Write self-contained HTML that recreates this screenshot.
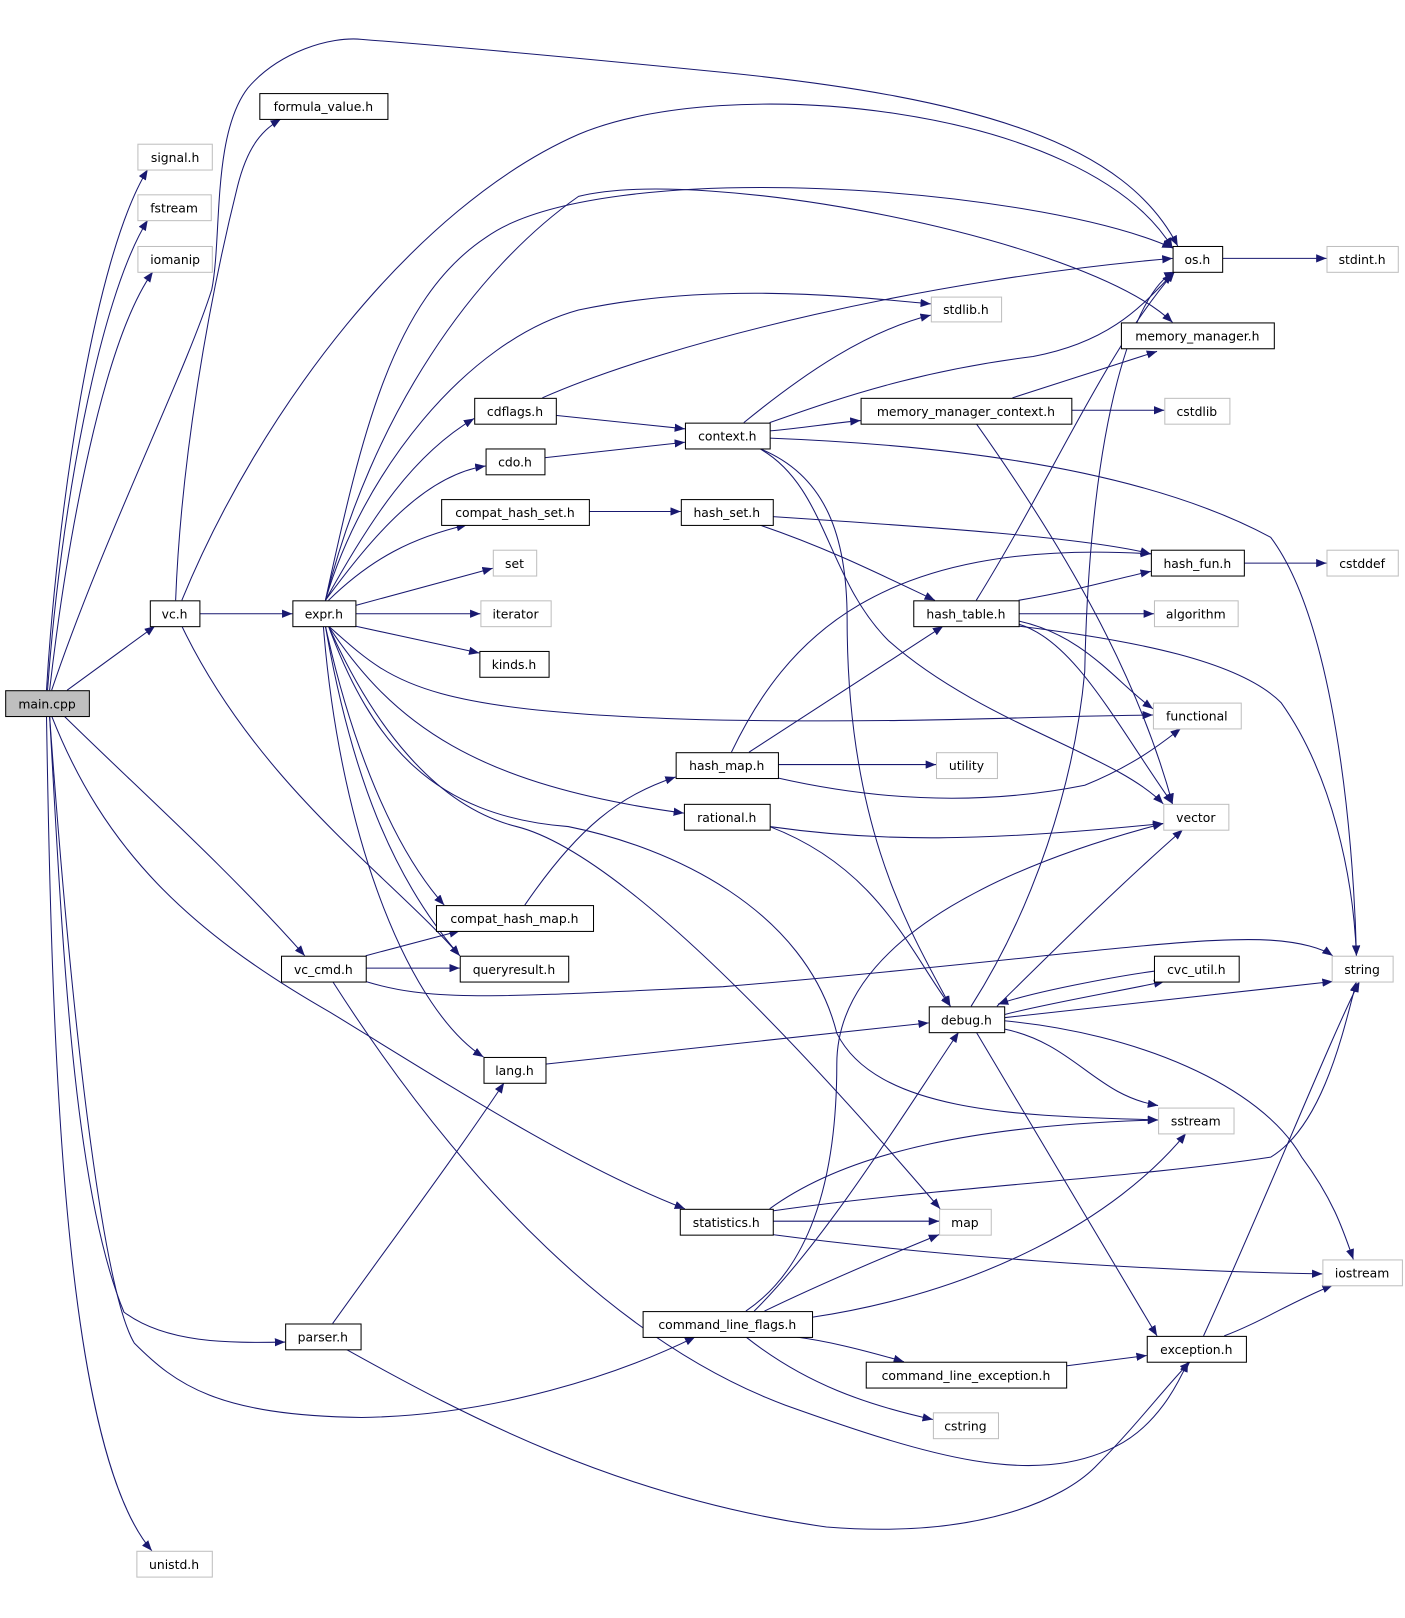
<!DOCTYPE html>
<html><head><meta charset="utf-8">
<style>
html,body{margin:0;padding:0;background:#fff;}
svg{display:block;}
text{font-family:"DejaVu Sans","Liberation Sans",sans-serif;font-size:12px;fill:#000;}
</style></head>
<body>
<svg width="1405" height="1618" viewBox="0 0 1360 1566" xmlns="http://www.w3.org/2000/svg">
<defs>
<marker id="a" viewBox="0 0 10 8" refX="10" refY="4" markerWidth="10" markerHeight="8" markerUnits="userSpaceOnUse" orient="auto">
<path d="M0,0 L10,4 L0,8 z" fill="#191970"/>
</marker>
</defs>
<g fill="none" stroke="#191970" stroke-width="1" marker-end="url(#a)">
<path d="M45,668 C55,500 90,250 143,164"/>
<path d="M46,668 C58,500 95,290 143,213"/>
<path d="M48,668 C65,520 100,330 148,263"/>
<path d="M50,668 C100,520 180,360 205,280 C215,230 205,130 240,85 C270,50 320,35 350,38 C400,42 500,50 700,70 C950,95 1090,140 1140,238"/>
<path d="M65,668 L150,606"/>
<path d="M62,693 C130,760 220,840 295,925"/>
<path d="M50,693 C100,820 180,900 320,980 C450,1060 560,1130 663,1170"/>
<path d="M48,693 C60,900 70,1150 120,1270 C160,1300 220,1300 276,1299"/>
<path d="M48,693 C70,1000 100,1250 130,1300 C170,1340 210,1370 350,1372 C480,1370 600,1330 673,1294"/>
<path d="M45,693 C50,1000 60,1400 147,1501"/>
<path d="M170,581 C175,450 200,300 230,180 C240,140 255,125 272,115"/>
<path d="M176,581 C250,400 400,200 560,130 C700,70 1050,100 1135,240"/>
<path d="M193,594 L283,594"/>
<path d="M176,606 C250,760 380,850 445,925"/>
<path d="M315,581 C350,420 380,290 470,230 C580,150 1000,180 1135,240"/>
<path d="M315,581 C360,400 460,260 560,190 C680,160 1050,230 1135,312"/>
<path d="M315,581 C350,460 450,330 560,300 C700,270 850,290 901,294"/>
<path d="M315,581 C360,500 400,440 459,405"/>
<path d="M315,581 C360,520 410,460 470,451"/>
<path d="M318,581 C360,540 400,520 452,508"/>
<path d="M344,586 L477,550"/>
<path d="M344,594 L465,594"/>
<path d="M344,606 L464,632"/>
<path d="M318,606 C380,660 400,690 700,697 C900,700 1000,693 1116,692"/>
<path d="M318,606 C380,700 460,760 662,787"/>
<path d="M315,606 C340,720 380,820 430,876"/>
<path d="M315,606 C340,750 380,850 445,925"/>
<path d="M313,606 C330,820 400,980 468,1023"/>
<path d="M318,606 C360,700 420,780 500,800 C620,830 850,1100 910,1170"/>
<path d="M318,606 C360,720 420,790 550,800 C650,820 780,880 810,1000 C850,1080 1000,1080 1121,1084"/>
<path d="M525,385 C650,330 900,270 1135,250"/>
<path d="M538,402 L663,415"/>
<path d="M527,443 L663,428"/>
<path d="M720,409 C780,360 840,320 901,305"/>
<path d="M745,409 C800,390 880,360 1000,345 C1080,330 1110,290 1135,265"/>
<path d="M745,417 C780,414 800,410 833,407"/>
<path d="M745,424 C900,430 1100,450 1230,520 C1290,600 1310,800 1313,925"/>
<path d="M735,434 C800,470 800,560 860,620 C950,700 1080,730 1126,778"/>
<path d="M735,434 C800,460 820,520 820,600 C820,800 880,900 920,974"/>
<path d="M980,385 L1120,340"/>
<path d="M1037,397 L1127,397"/>
<path d="M945,410 C1030,530 1100,650 1135,778"/>
<path d="M570,495 L659,495"/>
<path d="M748,500 C900,510 1050,520 1114,536"/>
<path d="M735,508 C800,530 850,555 905,581"/>
<path d="M986,581 C1050,570 1080,560 1114,553"/>
<path d="M986,594 L1117,594"/>
<path d="M986,601 C1050,615 1080,660 1116,686"/>
<path d="M986,604 C1040,620 1080,700 1135,778"/>
<path d="M986,606 C1100,620 1200,640 1240,680 C1290,750 1310,850 1313,925"/>
<path d="M945,581 C1020,460 1070,340 1137,263"/>
<path d="M1204,545 L1284,545"/>
<path d="M1183,250 L1284,250"/>
<path d="M725,728 L913,606"/>
<path d="M753,740 L906,740"/>
<path d="M753,753 C850,775 950,780 1050,760 C1100,740 1130,715 1143,705"/>
<path d="M708,728 C760,620 850,520 1114,536"/>
<path d="M508,876 C560,800 600,770 654,752"/>
<path d="M745,800 C850,815 950,815 1126,797"/>
<path d="M745,800 C850,840 880,920 920,974"/>
<path d="M354,925 L445,901"/>
<path d="M354,937 L445,937"/>
<path d="M354,950 C420,970 480,965 700,955 C1000,930 1150,905 1230,910 C1260,912 1280,918 1290,925"/>
<path d="M322,950 C450,1150 600,1300 760,1360 C900,1410 1000,1440 1080,1400 C1120,1380 1140,1340 1150,1318"/>
<path d="M528,1030 L899,990"/>
<path d="M940,974 C1000,880 1040,760 1050,650 C1055,400 1100,280 1137,263"/>
<path d="M965,974 C1020,920 1080,860 1145,803"/>
<path d="M972,982 C1020,970 1080,960 1127,950"/>
<path d="M1117,940 C1080,945 1000,960 966,972"/>
<path d="M972,985 L1290,950"/>
<path d="M972,996 C1040,1010 1060,1060 1121,1070"/>
<path d="M972,988 C1100,1000 1220,1050 1260,1120 C1290,1160 1300,1190 1310,1219"/>
<path d="M945,999 L1120,1293"/>
<path d="M748,1182 L909,1182"/>
<path d="M745,1170 C800,1130 900,1090 1121,1084"/>
<path d="M748,1172 C900,1150 1100,1140 1230,1120 C1280,1090 1300,1000 1313,950"/>
<path d="M748,1195 C900,1215 1100,1230 1280,1233"/>
<path d="M722,1269 C780,1230 810,1150 810,1030 C810,900 1000,830 1126,797"/>
<path d="M730,1269 C800,1200 880,1070 928,999"/>
<path d="M740,1269 C800,1240 860,1215 909,1195"/>
<path d="M786,1275 C950,1250 1080,1180 1148,1097"/>
<path d="M770,1294 C800,1298 830,1305 875,1318"/>
<path d="M722,1294 C780,1340 840,1360 903,1374"/>
<path d="M1032,1322 L1110,1312"/>
<path d="M1165,1293 C1230,1150 1290,1000 1316,950"/>
<path d="M1185,1293 C1220,1280 1250,1260 1290,1244"/>
<path d="M322,1281 C380,1200 440,1120 488,1048"/>
<path d="M335,1306 C450,1370 600,1450 800,1478 C950,1490 1030,1450 1060,1420 C1100,1380 1130,1340 1152,1318"/>
</g>
<g stroke-width="1">
<rect x="5.5" y="668.5" width="81" height="25" fill="#bfbfbf" stroke="#000"/>
<g fill="#fff" stroke="#bfbfbf">
<rect x="133.5" y="139.5" width="72" height="25"/>
<rect x="133.5" y="188.5" width="71" height="25"/>
<rect x="133.5" y="238.5" width="72" height="25"/>
<rect x="132.5" y="1501.5" width="73" height="25"/>
<rect x="1284.5" y="238.5" width="69" height="25"/>
<rect x="901.5" y="287.5" width="68" height="24"/>
<rect x="1127.5" y="385.5" width="63" height="25"/>
<rect x="477.5" y="532.5" width="42" height="25"/>
<rect x="1284.5" y="532.5" width="69" height="25"/>
<rect x="465.5" y="581.5" width="68" height="25"/>
<rect x="1117.5" y="581.5" width="81" height="25"/>
<rect x="1116.5" y="680.5" width="85" height="25"/>
<rect x="906.5" y="728.5" width="59" height="25"/>
<rect x="1126.5" y="778.5" width="63" height="25"/>
<rect x="1289.5" y="925.5" width="59" height="25"/>
<rect x="1121.5" y="1072.5" width="73" height="25"/>
<rect x="909.5" y="1170.5" width="50" height="25"/>
<rect x="1280.5" y="1219.5" width="77" height="25"/>
<rect x="903.5" y="1367.5" width="63" height="25"/>
</g>
<g fill="#fff" stroke="#000">
<rect x="251.5" y="90.5" width="124" height="25"/>
<rect x="145.5" y="581.5" width="48" height="25"/>
<rect x="283.5" y="581.5" width="61" height="25"/>
<rect x="272.5" y="925.5" width="82" height="25"/>
<rect x="276.5" y="1281.5" width="73" height="25"/>
<rect x="1135.5" y="238.5" width="48" height="25"/>
<rect x="1085.5" y="312.5" width="148" height="25"/>
<rect x="459.5" y="385.5" width="79" height="25"/>
<rect x="663.5" y="409.5" width="82" height="25"/>
<rect x="833.5" y="385.5" width="204" height="25"/>
<rect x="470.5" y="434.5" width="57" height="25"/>
<rect x="427.5" y="483.5" width="143" height="25"/>
<rect x="659.5" y="483.5" width="89" height="25"/>
<rect x="1114.5" y="532.5" width="90" height="25"/>
<rect x="884.5" y="581.5" width="102" height="25"/>
<rect x="464.5" y="630.5" width="67" height="25"/>
<rect x="654.5" y="728.5" width="99" height="25"/>
<rect x="662.5" y="778.5" width="83" height="25"/>
<rect x="422.5" y="876.5" width="152" height="25"/>
<rect x="445.5" y="925.5" width="105" height="25"/>
<rect x="1117.5" y="925.5" width="82" height="25"/>
<rect x="899.5" y="974.5" width="73" height="25"/>
<rect x="468.5" y="1023.5" width="60" height="25"/>
<rect x="658.5" y="1170.5" width="90" height="25"/>
<rect x="622.5" y="1269.5" width="164" height="25"/>
<rect x="1110.5" y="1293.5" width="96" height="25"/>
<rect x="838.5" y="1318.5" width="194" height="25"/>
</g>
</g>
<g text-anchor="middle">
<text x="45.5" y="685.5">main.cpp</text>
<text x="169.5" y="156.5">signal.h</text>
<text x="168.5" y="205.5">fstream</text>
<text x="169.5" y="255.5">iomanip</text>
<text x="168.5" y="1518.5">unistd.h</text>
<text x="1318.5" y="255.5">stdint.h</text>
<text x="935" y="304">stdlib.h</text>
<text x="1158.5" y="402.5">cstdlib</text>
<text x="498" y="549.5">set</text>
<text x="1318.5" y="549.5">cstddef</text>
<text x="499" y="598.5">iterator</text>
<text x="1157.5" y="598.5">algorithm</text>
<text x="1158.5" y="697.5">functional</text>
<text x="935.5" y="745.5">utility</text>
<text x="1157.5" y="795.5">vector</text>
<text x="1318.5" y="942.5">string</text>
<text x="1157.5" y="1089.5">sstream</text>
<text x="934" y="1187.5">map</text>
<text x="1318.5" y="1236.5">iostream</text>
<text x="934.5" y="1384.5">cstring</text>
<text x="313" y="107.5">formula_value.h</text>
<text x="169" y="598.5">vc.h</text>
<text x="313.5" y="598.5">expr.h</text>
<text x="313" y="942.5">vc_cmd.h</text>
<text x="312.5" y="1298.5">parser.h</text>
<text x="1159" y="255.5">os.h</text>
<text x="1159" y="329.5">memory_manager.h</text>
<text x="498.5" y="402.5">cdflags.h</text>
<text x="704" y="426.5">context.h</text>
<text x="935" y="402.5">memory_manager_context.h</text>
<text x="498.5" y="451.5">cdo.h</text>
<text x="498.5" y="500.5">compat_hash_set.h</text>
<text x="703.5" y="500.5">hash_set.h</text>
<text x="1159" y="549.5">hash_fun.h</text>
<text x="935" y="598.5">hash_table.h</text>
<text x="497.5" y="647.5">kinds.h</text>
<text x="703.5" y="745.5">hash_map.h</text>
<text x="703.5" y="795.5">rational.h</text>
<text x="498" y="893.5">compat_hash_map.h</text>
<text x="497.5" y="942.5">queryresult.h</text>
<text x="1158" y="942.5">cvc_util.h</text>
<text x="935.5" y="991.5">debug.h</text>
<text x="498" y="1040.5">lang.h</text>
<text x="703" y="1187.5">statistics.h</text>
<text x="704" y="1286.5">command_line_flags.h</text>
<text x="1158" y="1310.5">exception.h</text>
<text x="935" y="1335.5">command_line_exception.h</text>
</g>
</svg>
</body></html>
